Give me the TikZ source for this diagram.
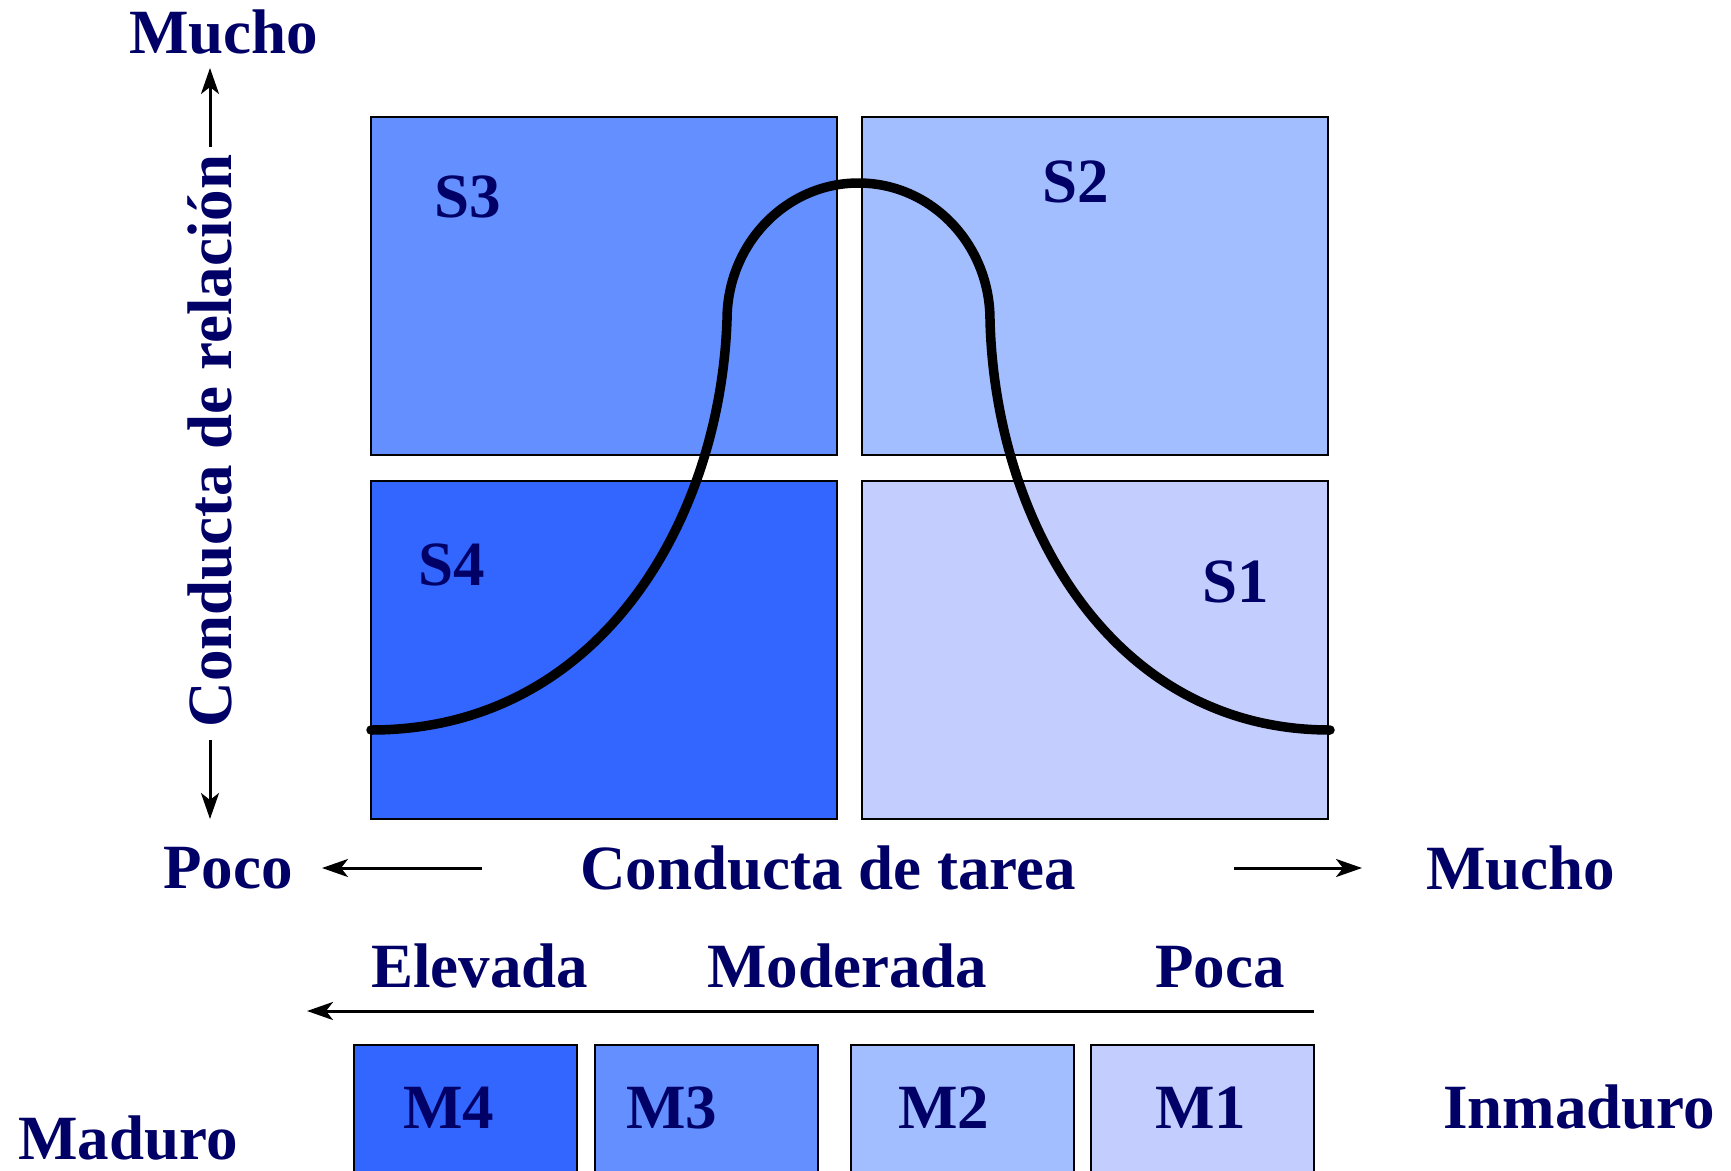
\documentclass[tikz,border=0pt]{standalone}
\usepackage{fontspec}
\setmainfont{Liberation Serif}
\usetikzlibrary{arrows.meta}
\definecolor{navytext}{RGB}{0,0,102}
\definecolor{cfour}{RGB}{51,102,255}
\definecolor{cthree}{RGB}{99,143,255}
\definecolor{ctwo}{RGB}{162,190,255}
\definecolor{cone}{RGB}{195,206,255}
\begin{document}
\begin{tikzpicture}[x=1pt,y=-1pt,
  qbox/.style={draw=black,line width=2pt,rectangle,inner sep=0pt,minimum width=466pt,minimum height=338pt},
  mbox/.style={draw=black,line width=2pt,rectangle,inner sep=0pt,minimum width=223pt,minimum height=155pt},
  lbl/.style={text=navytext,font=\fontsize{63}{70}\selectfont\bfseries,inner sep=0pt,anchor=base west},
  axarrow/.style={draw=black,line width=3pt,-{Stealth[length=26pt,width=18pt,inset=7pt]}},
  curve/.style={draw=black,line width=9.5pt,line cap=round,line join=round}
]
\clip (0,0) rectangle (1731,1170);
\fill[white] (0,0) rectangle (1731,1170);

% quadrant boxes
\node[qbox,fill=cthree] (q3) at (604,286) {};
\node[qbox,fill=ctwo] (q2) at (1095,286) {};
\node[qbox,fill=cfour] (q4) at (604,650) {};
\node[qbox,fill=cone] (q1) at (1095,650) {};

% quadrant labels
\node[lbl] (s3) at (434,217) {S3};
\node[lbl] (s2) at (1042,202) {S2};
\node[lbl] (s4) at (418,585) {S4};
\node[lbl] (s1) at (1202,602) {S1};

% bell curve
\coordinate (cl) at (371,730);
\coordinate (cr) at (1330,730);
\draw[curve] (cl) .. controls (600,730) and (720,520) .. (727,320)
  .. controls (727,244) and (786,183) .. (858.5,183)
  .. controls (931,183) and (990,244) .. (990,320)
  .. controls (995,520) and (1110,730) .. (cr);

% vertical axis
\node[text=navytext,font=\fontsize{63}{70}\selectfont\bfseries,inner sep=0pt,rotate=90] (rel) at (210,441) {Conducta de relación};
\node[lbl] (muchotop) at (129,53) {Mucho};
\coordinate (vupstart) at (210,147);
\coordinate (vuptip) at (210,68);
\coordinate (vdnstart) at (210,740);
\coordinate (vdntip) at (210,819);
\draw[axarrow] (vupstart) -- (vuptip);
\draw[axarrow] (vdnstart) -- (vdntip);

% horizontal axis
\node[lbl] (poco) at (163,888) {Poco};
\node[lbl] (tarea) at (580,889) {Conducta de tarea};
\node[lbl] (muchoright) at (1426,889) {Mucho};
\coordinate (hlstart) at (482,868);
\coordinate (hltip) at (322,868);
\coordinate (hrstart) at (1234,868);
\coordinate (hrtip) at (1362,868);
\draw[axarrow] (hlstart) -- (hltip);
\draw[axarrow] (hrstart) -- (hrtip);

% maturity scale
\node[lbl] (elevada) at (371,987) {Elevada};
\node[lbl] (moderada) at (707,987) {Moderada};
\node[lbl] (poca) at (1155,987) {Poca};
\coordinate (mstart) at (1314,1011);
\coordinate (mtip) at (307,1011);
\draw[axarrow] (mstart) -- (mtip);

\node[mbox,fill=cfour] (b4) at (465.5,1122.5) {};
\node[mbox,fill=cthree] (b3) at (706,1122.5) {};
\node[mbox,fill=ctwo] (b2) at (962,1122.5) {};
\node[mbox,fill=cone] (b1) at (1202,1122.5) {};
\node[lbl] (m4) at (403,1128) {M4};
\node[lbl] (m3) at (626,1128) {M3};
\node[lbl] (m2) at (898,1128) {M2};
\node[lbl] (m1) at (1155,1128) {M1};

\node[lbl] (maduro) at (18,1159) {Maduro};
\node[lbl] (inmaduro) at (1443,1128) {Inmaduro};
\end{tikzpicture}
\end{document}
